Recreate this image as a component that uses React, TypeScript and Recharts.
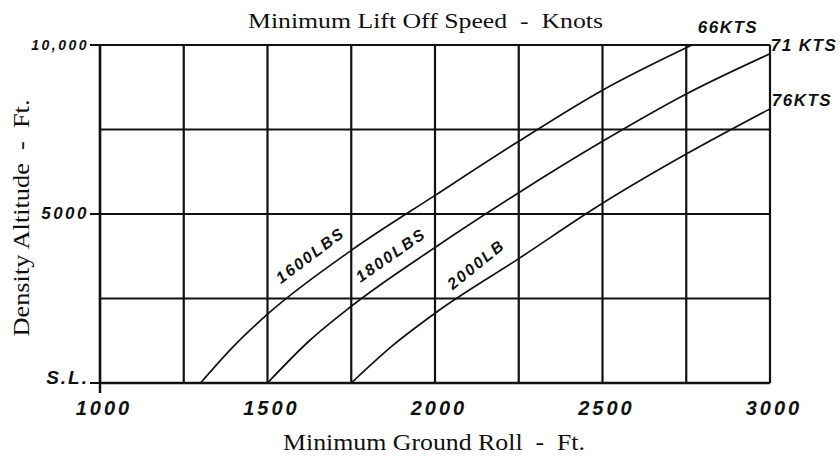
import { CartesianGrid, Line, LineChart, ReferenceDot, XAxis, YAxis } from 'recharts';

// ground roll (ft) -> density altitude (ft)
const roll1600 = [1300, 1400, 1500, 1750, 2000, 2250, 2500, 2767];
const alt1600 = [0, 1100, 2035, 3924, 5550, 7152, 8663, 10000];

const roll1800 = [1500, 1625, 1750, 2000, 2250, 2500, 2750, 3000];
const alt1800 = [0, 1250, 2270, 4010, 5630, 7150, 8550, 9740];

const roll2000 = [1750, 1875, 2000, 2250, 2500, 2750, 3000];
const alt2000 = [0, 1120, 2064, 3680, 5316, 6772, 8110];

const weights = ['1600LBS', '1800LBS', '2000LB'];
const speeds = ['66KTS', '71 KTS', '76KTS'];

const xTicks = [1000, 1250, 1500, 1750, 2000, 2250, 2500, 2750, 3000];
const yTicks = [0, 2500, 5000, 7500, 10000];
const yTickText: Record<number, string> = { 0: 'S.L.', 5000: '5000', 10000: '10,000' };

const zip = (xs: number[], ys: number[]) => xs.map((roll, i) => ({ roll, alt: ys[i] }));
const curves = [zip(roll1600, alt1600), zip(roll1800, alt1800), zip(roll2000, alt2000)];

// where the rotated weight tags sit (data space) and their tilt
const weightTags = [
  { roll: 1630, alt: 3750, angle: -37 },
  { roll: 1870, alt: 3750, angle: -35 },
  { roll: 2125, alt: 3480, angle: -39 },
];
// pixel offset of the speed tags from each curve's end
const speedOffsets = [
  { dx: 36, dy: -16 },
  { dx: 34, dy: -7 },
  { dx: 32, dy: -7 },
];

const INK = '#111';
const hand = {
  fontFamily: '"Liberation Sans", Arial, sans-serif',
  fontStyle: 'italic' as const,
  fontWeight: 700,
  fill: INK,
};
const serif = '"Liberation Serif", "Times New Roman", serif';

const XTick = (props: any) => {
  const { x, y, payload } = props;
  if (payload.value % 500 !== 0) return null;
  return (
    <g>
      {payload.value === 1000 && <line x1={x} x2={x} y1={y} y2={y + 10} stroke={INK} strokeWidth={2.5} />}
      <text x={x + 4} y={y + 32} textAnchor="middle" fontSize={20} letterSpacing={3} {...hand}>
        {payload.value}
      </text>
    </g>
  );
};

const YTick = (props: any) => {
  const { x, y, payload } = props;
  const label = yTickText[payload.value];
  if (!label) return null;
  const sl = payload.value === 0;
  return (
    <g>
      <line x1={x} x2={x + 10} y1={y} y2={y} stroke={INK} strokeWidth={2} />
      <text
        x={x - 1}
        y={sl ? y - 4 : y + 1}
        dominantBaseline="middle"
        textAnchor="end"
        fontSize={sl ? 19 : payload.value === 5000 ? 17 : 14}
        letterSpacing={sl ? 2 : 2.5}
        {...hand}
      >
        {label}
      </text>
    </g>
  );
};

const tagAt = (text: string, dx: number, dy: number, angle: number, size: number, spacing: number) => (p: any) => {
  const vb = p.viewBox || {};
  const cx = (vb.x ?? 0) + (vb.width ?? 0) / 2 + dx;
  const cy = (vb.y ?? 0) + (vb.height ?? 0) / 2 + dy;
  return (
    <text
      x={cx}
      y={cy}
      textAnchor="middle"
      dominantBaseline="middle"
      fontSize={size}
      letterSpacing={spacing}
      transform={angle ? `rotate(${angle} ${cx} ${cy})` : undefined}
      {...hand}
    >
      {text}
    </text>
  );
};

export default function App() {
  return (
    <div style={{ position: 'absolute', left: 0, top: 0, width: 840, height: 456, background: '#fff' }}>
      <LineChart width={840} height={456} margin={{ top: 45, right: 70, bottom: 33, left: 10 }}>
        <CartesianGrid stroke={INK} strokeWidth={2.2} />
        <XAxis
          type="number"
          dataKey="roll"
          domain={[1000, 3000]}
          ticks={xTicks}
          interval={0}
          height={40}
          tickLine={false}
          tickSize={0}
          tickMargin={0}
          tick={<XTick />}
          axisLine={{ stroke: INK, strokeWidth: 2.5 }}
          allowDataOverflow
        />
        <YAxis
          type="number"
          dataKey="alt"
          domain={[0, 10000]}
          ticks={yTicks}
          interval={0}
          width={90}
          tickLine={false}
          tickSize={10}
          tickMargin={0}
          tick={<YTick />}
          axisLine={{ stroke: INK, strokeWidth: 2.5 }}
          allowDataOverflow
        />
        {curves.map((data, i) => (
          <Line
            key={weights[i]}
            data={data}
            dataKey="alt"
            type="monotone"
            stroke={INK}
            strokeWidth={1.7}
            dot={false}
            activeDot={false}
            isAnimationActive={false}
          />
        ))}
        {weightTags.map((t, i) => (
          <ReferenceDot
            key={'w' + i}
            x={t.roll}
            y={t.alt}
            r={0}
            fill="none"
            stroke="none"
            ifOverflow="visible"
            label={tagAt(weights[i], 0, 0, t.angle, 16, 2)}
          />
        ))}
        {curves.map((data, i) => {
          const end = data[data.length - 1];
          return (
            <ReferenceDot
              key={'s' + i}
              x={end.roll}
              y={end.alt}
              r={0}
              fill="none"
              stroke="none"
              ifOverflow="visible"
              label={tagAt(speeds[i], speedOffsets[i].dx, speedOffsets[i].dy, 0, 17, 1.5)}
            />
          );
        })}
      </LineChart>
      <svg
        width={840}
        height={456}
        style={{ position: 'absolute', left: 0, top: 0, pointerEvents: 'none' }}
        fontFamily={serif}
        fill={INK}
      >
        <text
          x={248}
          y={28}
          fontSize={22}
          textLength={355}
          lengthAdjust="spacingAndGlyphs"
          style={{ whiteSpace: 'pre' }}
        >
          {'Minimum Lift Off Speed  -  Knots'}
        </text>
        <text
          x={283}
          y={450}
          fontSize={23}
          textLength={302}
          lengthAdjust="spacingAndGlyphs"
          style={{ whiteSpace: 'pre' }}
        >
          {'Minimum Ground Roll  -  Ft.'}
        </text>
        <text
          transform="translate(29 218) rotate(-90)"
          textAnchor="middle"
          fontSize={24}
          textLength={237}
          lengthAdjust="spacingAndGlyphs"
          style={{ whiteSpace: 'pre' }}
        >
          {'Density Altitude  -  Ft.'}
        </text>
      </svg>
    </div>
  );
}
